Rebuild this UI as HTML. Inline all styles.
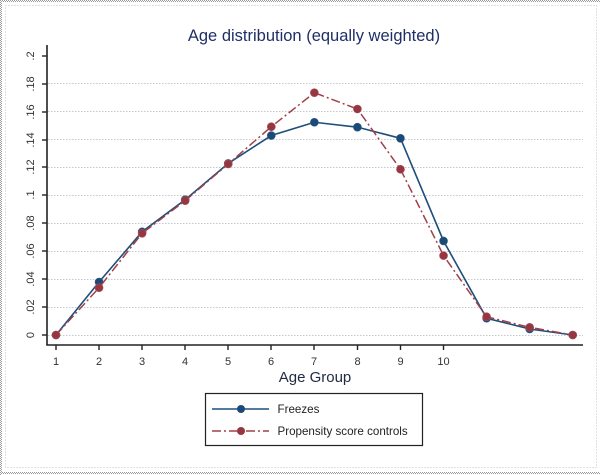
<!DOCTYPE html>
<html>
<head>
<meta charset="utf-8">
<style>
  html, body { margin:0; padding:0; background:#fff; }
  svg { display:block; }
  text { font-family: "Liberation Sans", Arial, sans-serif; }
</style>
</head>
<body>
<svg width="600" height="475" viewBox="0 0 600 475" xmlns="http://www.w3.org/2000/svg">
  <rect x="0" y="0" width="600" height="475" fill="#fff"/>
  <!-- outer dotted frame -->
  <g stroke="#9a9a9a" stroke-width="1" stroke-dasharray="1 1" fill="none">
    <line x1="0" y1="0.5" x2="600" y2="0.5"/>
    <line x1="1" y1="1.5" x2="600" y2="1.5"/>
    <line x1="0.5" y1="0" x2="0.5" y2="475"/>
    <line x1="1.5" y1="1" x2="1.5" y2="475"/>
    <line x1="0" y1="472.5" x2="600" y2="472.5"/>
    <line x1="1" y1="473.5" x2="600" y2="473.5"/>
  </g>
  <!-- inner dotted frame -->
  <rect x="5.5" y="5.5" width="591" height="462" fill="none" stroke="#b8c4c8" stroke-width="1" stroke-dasharray="1 2"/>

  <!-- title -->
  <text x="314" y="41" font-size="16.5" fill="#1f2f66" text-anchor="middle">Age distribution (equally weighted)</text>

  <!-- gridlines -->
  <g stroke="#c4c8d2" stroke-width="1" stroke-dasharray="1.5 1.5">
    <line x1="48" y1="335.5" x2="583" y2="335.5"/>
    <line x1="48" y1="307.5" x2="583" y2="307.5"/>
    <line x1="48" y1="279.5" x2="583" y2="279.5"/>
    <line x1="48" y1="251.5" x2="583" y2="251.5"/>
    <line x1="48" y1="223.5" x2="583" y2="223.5"/>
    <line x1="48" y1="195.5" x2="583" y2="195.5"/>
    <line x1="48" y1="167.5" x2="583" y2="167.5"/>
    <line x1="48" y1="139.5" x2="583" y2="139.5"/>
    <line x1="48" y1="111.5" x2="583" y2="111.5"/>
    <line x1="48" y1="83.5" x2="583" y2="83.5"/>
  </g>

  <!-- axes -->
  <g stroke="#222" stroke-width="1.6" fill="none">
    <line x1="47" y1="45" x2="47" y2="345"/>
    <line x1="46.2" y1="345" x2="583" y2="345"/>
  </g>
  <!-- y ticks -->
  <g stroke="#222" stroke-width="1.4">
    <line x1="42" y1="335" x2="47" y2="335"/>
    <line x1="42" y1="307" x2="47" y2="307"/>
    <line x1="42" y1="279" x2="47" y2="279"/>
    <line x1="42" y1="251" x2="47" y2="251"/>
    <line x1="42" y1="223" x2="47" y2="223"/>
    <line x1="42" y1="195" x2="47" y2="195"/>
    <line x1="42" y1="167" x2="47" y2="167"/>
    <line x1="42" y1="140" x2="47" y2="140"/>
    <line x1="42" y1="112" x2="47" y2="112"/>
    <line x1="42" y1="84" x2="47" y2="84"/>
    <line x1="42" y1="56" x2="47" y2="56"/>
  </g>
  <!-- x ticks -->
  <g stroke="#222" stroke-width="1.4">
    <line x1="56" y1="345" x2="56" y2="350"/>
    <line x1="99" y1="345" x2="99" y2="350"/>
    <line x1="142" y1="345" x2="142" y2="350"/>
    <line x1="185" y1="345" x2="185" y2="350"/>
    <line x1="228" y1="345" x2="228" y2="350"/>
    <line x1="271" y1="345" x2="271" y2="350"/>
    <line x1="314" y1="345" x2="314" y2="350"/>
    <line x1="357.5" y1="345" x2="357.5" y2="350"/>
    <line x1="400.5" y1="345" x2="400.5" y2="350"/>
    <line x1="443.5" y1="345" x2="443.5" y2="350"/>
  </g>

  <!-- y tick labels -->
  <g font-size="11" fill="#333" text-anchor="middle">
    <text transform="translate(34,335) rotate(-90)">0</text>
    <text transform="translate(34,307) rotate(-90)">.02</text>
    <text transform="translate(34,279) rotate(-90)">.04</text>
    <text transform="translate(34,251) rotate(-90)">.06</text>
    <text transform="translate(34,223) rotate(-90)">.08</text>
    <text transform="translate(34,195) rotate(-90)">.1</text>
    <text transform="translate(34,167) rotate(-90)">.12</text>
    <text transform="translate(34,140) rotate(-90)">.14</text>
    <text transform="translate(34,112) rotate(-90)">.16</text>
    <text transform="translate(34,84) rotate(-90)">.18</text>
    <text transform="translate(34,56) rotate(-90)">.2</text>
  </g>

  <!-- x tick labels -->
  <g font-size="11" fill="#333" text-anchor="middle">
    <text x="56" y="365">1</text>
    <text x="99" y="365">2</text>
    <text x="142" y="365">3</text>
    <text x="185" y="365">4</text>
    <text x="228" y="365">5</text>
    <text x="271" y="365">6</text>
    <text x="314" y="365">7</text>
    <text x="357.5" y="365">8</text>
    <text x="400.5" y="365">9</text>
    <text x="443.5" y="365">10</text>
  </g>

  <!-- x axis title -->
  <text x="315" y="382" font-size="15" fill="#222a44" text-anchor="middle">Age Group</text>

  <!-- Freezes series -->
  <polyline fill="none" stroke="#1f4e7a" stroke-width="1.6"
    points="56,335 99.06,281.99 142.12,231.77 185.18,199.69 228.24,163.42 271.3,135.52 314.36,122.26 357.42,127.15 400.48,138.3 443.54,240.98 486.6,318.26 529.66,329 572.72,335"/>
  <g fill="#1b4a78" stroke="#2a5a86" stroke-width="0.6">
    <circle cx="56" cy="335" r="4"/>
    <circle cx="99.06" cy="281.99" r="4"/>
    <circle cx="142.12" cy="231.77" r="4"/>
    <circle cx="185.18" cy="199.69" r="4"/>
    <circle cx="228.24" cy="163.42" r="4"/>
    <circle cx="271.3" cy="135.52" r="4"/>
    <circle cx="314.36" cy="122.26" r="4"/>
    <circle cx="357.42" cy="127.15" r="4"/>
    <circle cx="400.48" cy="138.3" r="4"/>
    <circle cx="443.54" cy="240.98" r="4"/>
    <circle cx="486.6" cy="318.26" r="4"/>
    <circle cx="529.66" cy="329" r="4"/>
    <circle cx="572.72" cy="335" r="4"/>
  </g>

  <!-- Propensity series -->
  <polyline fill="none" stroke="#a04048" stroke-width="1.5" stroke-dasharray="9 3 2 3"
    points="56,335 99.06,287.71 142.12,233.3 185.18,200.67 228.24,163.97 271.3,126.72 314.36,92.69 357.42,109.01 400.48,169.27 443.54,255.62 486.6,316.73 529.66,327.33 572.72,335"/>
  <g fill="#973641" stroke="#a8505a" stroke-width="0.6">
    <circle cx="56" cy="335" r="4"/>
    <circle cx="99.06" cy="287.71" r="4"/>
    <circle cx="142.12" cy="233.3" r="4"/>
    <circle cx="185.18" cy="200.67" r="4"/>
    <circle cx="228.24" cy="163.97" r="4"/>
    <circle cx="271.3" cy="126.72" r="4"/>
    <circle cx="314.36" cy="92.69" r="4"/>
    <circle cx="357.42" cy="109.01" r="4"/>
    <circle cx="400.48" cy="169.27" r="4"/>
    <circle cx="443.54" cy="255.62" r="4"/>
    <circle cx="486.6" cy="316.73" r="4"/>
    <circle cx="529.66" cy="327.33" r="4"/>
    <circle cx="572.72" cy="335" r="4"/>
  </g>

  <!-- legend -->
  <rect x="205.5" y="393.5" width="217" height="52" fill="#fff" stroke="#222" stroke-width="1.2"/>
  <line x1="212" y1="409" x2="269" y2="409" stroke="#1f4e7a" stroke-width="1.6"/>
  <circle cx="241" cy="409" r="4" fill="#1b4a78"/>
  <line x1="212" y1="431" x2="269" y2="431" stroke="#a04048" stroke-width="1.5" stroke-dasharray="9 3 2 3"/>
  <circle cx="241" cy="431" r="4" fill="#973641"/>
  <g font-size="11.6" fill="#222">
    <text x="277.5" y="413">Freezes</text>
    <text x="277.5" y="435">Propensity score controls</text>
  </g>
</svg>
</body>
</html>
